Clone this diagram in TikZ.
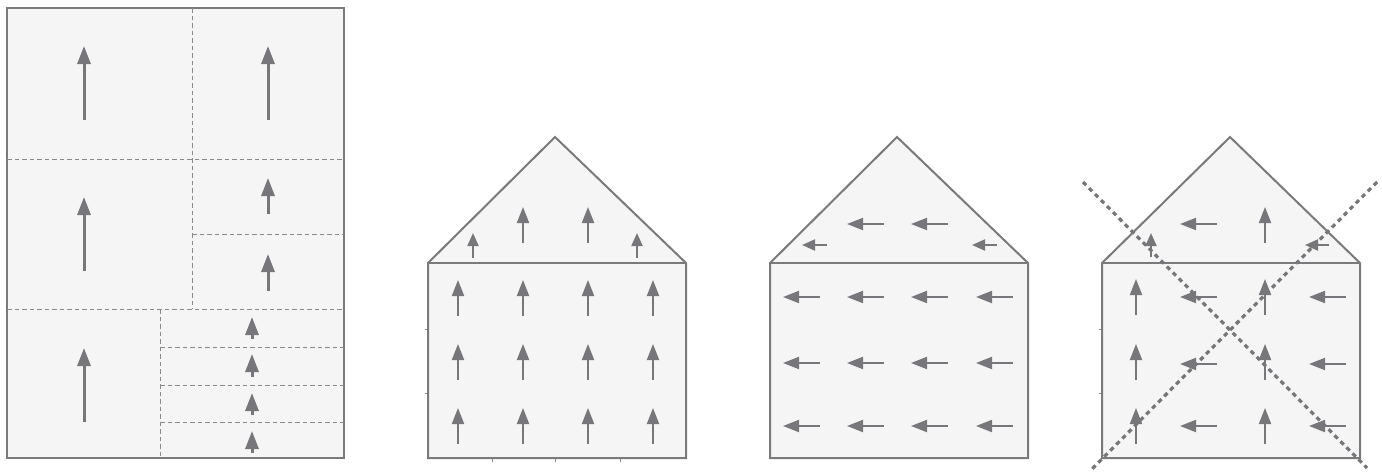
\documentclass[tikz,border=0pt]{standalone}
\usetikzlibrary{arrows.meta}
\definecolor{panelfill}{HTML}{F5F5F5}
\definecolor{edgegray}{HTML}{7A7A7C}
\definecolor{arrgray}{HTML}{77777B}
\definecolor{dashgray}{HTML}{8A8A8A}
\tikzset{
  panel/.style={draw=edgegray, line width=2pt, fill=panelfill, line join=miter},
  divider/.style={draw=dashgray, line width=0.9pt, dash pattern=on 4.5pt off 3pt},
  bigarr/.style={draw=arrgray, line width=3pt, -{Triangle[length=18pt,width=13pt]}},
  smallarr/.style={draw=arrgray, line width=2pt, -{Triangle[length=16pt,width=12pt]}},
  tinyarr/.style={draw=arrgray, line width=2pt, -{Triangle[length=13pt,width=11pt]}},
  crossline/.style={draw=arrgray, line width=3.2pt, dash pattern=on 4.5pt off 4pt},
  ticks/.style={draw=dashgray, line width=0.8pt}
}
\begin{document}
\begin{tikzpicture}[x=1pt,y=-1pt]
\useasboundingbox (0,0) rectangle (1382,472);
% ---------- left panel ----------
\draw[panel] (7,8) rectangle (344,458);
\draw[divider] (192,8) -- (192,309);
\draw[divider] (7,159) -- (344,159);
\draw[divider] (7,309) -- (344,309);
\draw[divider] (192,234) -- (344,234);
\draw[divider] (160,309) -- (160,458);
\foreach \yy in {347,385,422} \draw[divider] (160,\yy) -- (344,\yy);
\draw[bigarr] (84,120) -- (84,46);
\draw[bigarr] (268,120) -- (268,46);
\draw[bigarr] (84,271) -- (84,197);
\draw[bigarr] (268,214) -- (268,178);
\draw[bigarr] (268,291) -- (268,254);
\draw[bigarr] (84,422) -- (84,348);
\draw[bigarr] (252,339) -- (252,317);
\draw[bigarr] (252,377) -- (252,354);
\draw[bigarr] (252,415) -- (252,393);
\draw[bigarr] (252,453) -- (252,431);
% ---------- house 2 ----------
\draw[panel] (428,458) -- (428,263) -- (555,137) -- (686,263) -- (686,458) -- cycle;
\draw[panel] (428,263) -- (686,263);
\foreach \xx in {492,555,620} \draw[ticks] (\xx,459) -- (\xx,462);
\foreach \yy in {329,393} \draw[ticks] (427,\yy) -- (425,\yy);
\foreach \xx in {458,523,588,653}
  \foreach \yy in {316,380,444}
    \draw[smallarr] (\xx,\yy) -- ++(0,-36);
\draw[smallarr] (523,243) -- (523,207);
\draw[smallarr] (588,243) -- (588,207);
\draw[tinyarr] (473,258) -- (473,233);
\draw[tinyarr] (637,258) -- (637,233);
% ---------- house 3 ----------
\draw[panel] (770,458) -- (770,263) -- (897,137) -- (1028,263) -- (1028,458) -- cycle;
\draw[panel] (770,263) -- (1028,263);
\foreach \xx in {820,884,948,1013}
  \foreach \yy in {297,363,426}
    \draw[smallarr] (\xx,\yy) -- ++(-37,0);
\draw[smallarr] (884,224) -- (847,224);
\draw[smallarr] (948,224) -- (911,224);
\draw[tinyarr] (827,245) -- (802,245);
\draw[tinyarr] (997,245) -- (972,245);
% ---------- house 4 ----------
\draw[panel] (1102,458) -- (1102,263) -- (1230,137) -- (1360,263) -- (1360,458) -- cycle;
\draw[panel] (1102,263) -- (1360,263);
\foreach \yy in {329,393} \draw[ticks] (1101,\yy) -- (1099,\yy);
\foreach \yy in {315,380,444} {
  \draw[smallarr] (1136,\yy) -- ++(0,-36);
  \draw[smallarr] (1265,\yy) -- ++(0,-36);
}
\foreach \yy in {297,364,426} {
  \draw[smallarr] (1217,\yy) -- ++(-37,0);
  \draw[smallarr] (1346,\yy) -- ++(-37,0);
}
\draw[tinyarr] (1151,257) -- (1151,233);
\draw[smallarr] (1217,224) -- (1180,224);
\draw[smallarr] (1265,243) -- (1265,207);
\draw[tinyarr] (1329,245) -- (1305,245);
\coordinate (xa) at (1083,182);
\coordinate (xb) at (1367,468);
\coordinate (xc) at (1377,182);
\coordinate (xd) at (1092,469);
\draw[crossline] (xa) -- (xb);
\draw[crossline] (xc) -- (xd);
\end{tikzpicture}
\end{document}
